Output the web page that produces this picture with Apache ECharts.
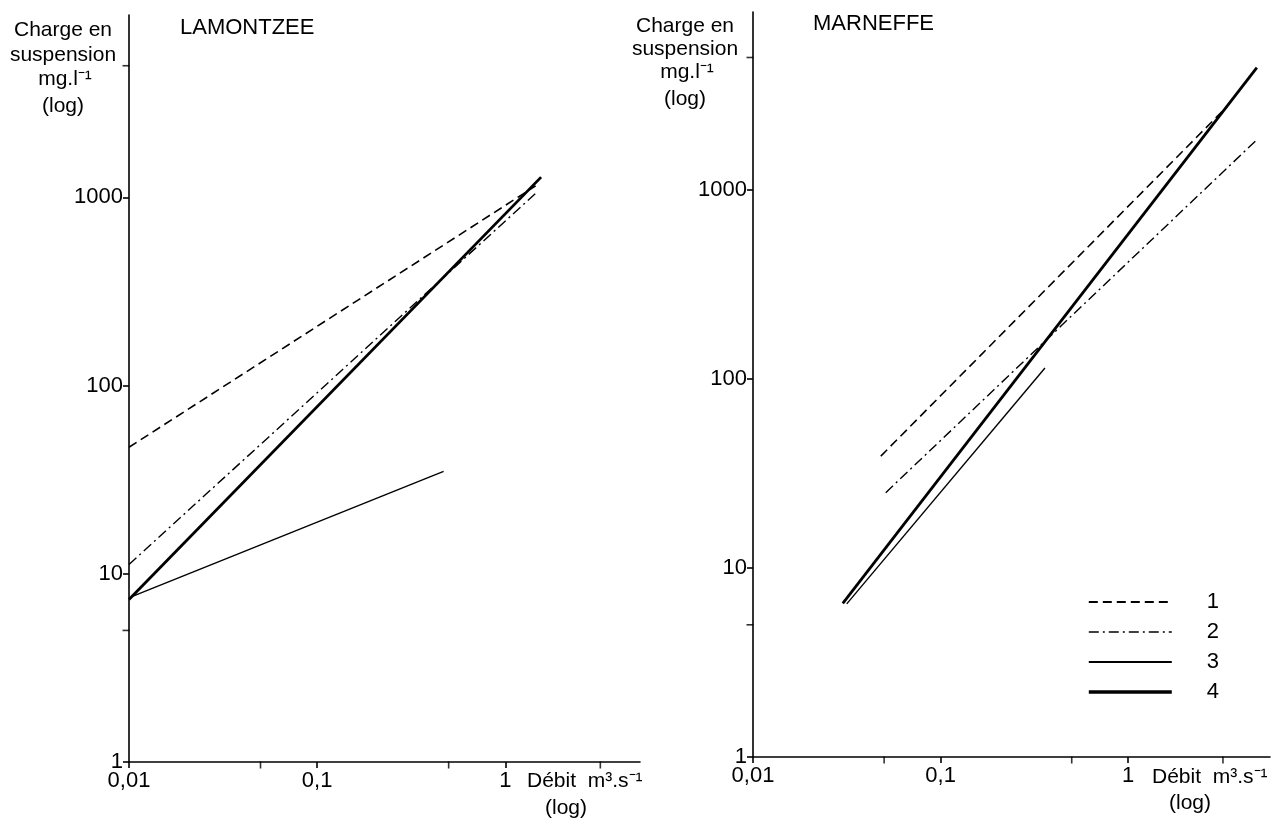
<!DOCTYPE html>
<html>
<head>
<meta charset="utf-8">
<script src="https://cdn.jsdelivr.net/npm/echarts@6/dist/echarts.min.js"></script>
<style>
html,body{margin:0;padding:0;background:#fff;}
#c{width:1275px;height:821px;}
</style>
</head>
<body>
<div id="c"></div>
<script>
// ---- data (discharge m3/s, suspended load mg/l) ----
const seriesNames = ['1', '2', '3', '4'];
// LAMONTZEE
const lamQ1 = [0.01, 1.45];   const lamC1 = [47, 1150];
const lamQ2 = [0.01, 1.45];   const lamC2 = [11.2, 1050];
const lamQ3 = [0.0105, 0.47]; const lamC3 = [7.6, 35];
const lamQ4 = [0.01, 1.55];   const lamC4 = [7.3, 1280];
// MARNEFFE
const marQ1 = [0.048, 3.36];  const marC1 = [39, 2750];
const marQ2 = [0.051, 4.86];  const marC2 = [25, 1840];
const marQ3 = [0.0316, 0.36]; const marC3 = [6.45, 114];
const marQ4 = [0.0301, 4.85]; const marC4 = [6.5, 4420];
// axis ticks
const xMinorTicks = [0.05, 0.5, 3.2];
const yMinorTicks = [5, 5000];
const lamXMax = 5.2, lamYMax = 9300;
const marXMax = 5.7, marYMax = 8700;

const pairs = (xs, ys) => xs.map((x, i) => [x, ys[i]]);
const FONT = '"Liberation Sans", Arial, Helvetica, sans-serif';
const styles = {
  '1': {type: [9, 5], width: 1.6},
  '2': {type: [10, 4, 2, 4], width: 1.4},
  '3': {type: 'solid', width: 1.4},
  '4': {type: 'solid', width: 2.8}
};
const legendWidths = {'1': 1.9, '2': 1.7, '3': 2.2, '4': 3.6};
const fmt = v => Number(v.toPrecision(3)).toString().replace('.', ',');

function lineSeries(name, xs, ys, idx) {
  return {
    name: name, type: 'line', xAxisIndex: idx, yAxisIndex: idx,
    data: pairs(xs, ys), symbol: 'none', silent: true, animation: false,
    color: '#000', itemStyle: {color: '#000'},
    lineStyle: {color: '#000', width: styles[name].width, type: styles[name].type}
  };
}
function tickSeries(idx, xs, ys, size, offset) {
  return {
    type: 'scatter', xAxisIndex: idx, yAxisIndex: idx, silent: true, animation: false,
    data: pairs(xs, ys), symbol: 'rect', symbolSize: size, symbolOffset: offset,
    itemStyle: {color: '#000'}, clip: false
  };
}
function xAxis(idx, max) {
  return {
    type: 'log', logBase: 10, gridIndex: idx, min: 0.01, max: max,
    axisLine: {lineStyle: {color: '#000', width: 1.6}},
    axisTick: {show: true, length: 6, lineStyle: {color: '#000', width: 1.6}},
    axisLabel: {color: '#000', fontSize: 22, fontFamily: FONT, margin: 8, formatter: fmt,
                showMaxLabel: false},
    splitLine: {show: false}, minorTick: {show: false}
  };
}
function yAxis(idx, max) {
  return {
    type: 'log', logBase: 10, gridIndex: idx, min: 1, max: max,
    axisLine: {lineStyle: {color: '#000', width: 1.6}},
    axisTick: {show: true, length: 6, lineStyle: {color: '#000', width: 1.6}},
    axisLabel: {color: '#000', fontSize: 22, fontFamily: FONT, margin: 6, formatter: fmt,
                showMaxLabel: false},
    splitLine: {show: false}
  };
}
function txt(x, y, s, size, align) {
  return {type: 'text', x: x, y: y, silent: true,
    style: {text: s, fill: '#000', font: (size || 21) + 'px ' + FONT,
            textAlign: align || 'center', textVerticalAlign: 'middle'}};
}

const chart = echarts.init(document.getElementById('c'));
chart.setOption({
  backgroundColor: '#fff',
  animation: false,
  grid: [
    {left: 129, top: 15, width: 511, height: 747},
    {left: 753, top: 12, width: 517, height: 745}
  ],
  xAxis: [xAxis(0, lamXMax), xAxis(1, marXMax)],
  yAxis: [yAxis(0, lamYMax), yAxis(1, marYMax)],
  legend: {
    data: seriesNames.map(n => ({name: n, lineStyle: {width: legendWidths[n]}})),
    orient: 'vertical', left: 1087, top: 591, padding: 0,
    itemWidth: 83, itemHeight: 12, itemGap: 8, selectedMode: false,
    itemStyle: {opacity: 0},
    textStyle: {color: '#000', fontSize: 22, fontFamily: FONT, padding: [0, 0, 0, 30]}
  },
  series: [
    lineSeries('1', lamQ1, lamC1, 0),
    lineSeries('2', lamQ2, lamC2, 0),
    lineSeries('3', lamQ3, lamC3, 0),
    lineSeries('4', lamQ4, lamC4, 0),
    lineSeries('1', marQ1, marC1, 1),
    lineSeries('2', marQ2, marC2, 1),
    lineSeries('3', marQ3, marC3, 1),
    lineSeries('4', marQ4, marC4, 1),
    tickSeries(0, xMinorTicks, xMinorTicks.map(() => 1), [1.6, 7], [0, 3]),
    tickSeries(1, xMinorTicks, xMinorTicks.map(() => 1), [1.6, 7], [0, 3]),
    tickSeries(0, yMinorTicks.map(() => 0.01), yMinorTicks, [7, 1.6], [-3, 0]),
    tickSeries(1, yMinorTicks.map(() => 0.01), yMinorTicks, [7, 1.6], [-3, 0])
  ],
  graphic: [
    txt(180, 28, 'LAMONTZEE', 22, 'left'),
    txt(813, 24, 'MARNEFFE', 22, 'left'),
    txt(63, 30, 'Charge en'),
    txt(63, 55, 'suspension'),
    txt(65, 79, 'mg.l⁻¹'),
    txt(63, 106, '(log)'),
    txt(685, 26, 'Charge en'),
    txt(685, 49, 'suspension'),
    txt(687, 72, 'mg.l⁻¹'),
    txt(685, 99, '(log)'),
    txt(527, 781, 'Débit  m³.s⁻¹', 21, 'left'),
    txt(566, 808, '(log)'),
    txt(1152, 777, 'Débit  m³.s⁻¹', 21, 'left'),
    txt(1190, 803, '(log)')
  ]
});
</script>
</body>
</html>
